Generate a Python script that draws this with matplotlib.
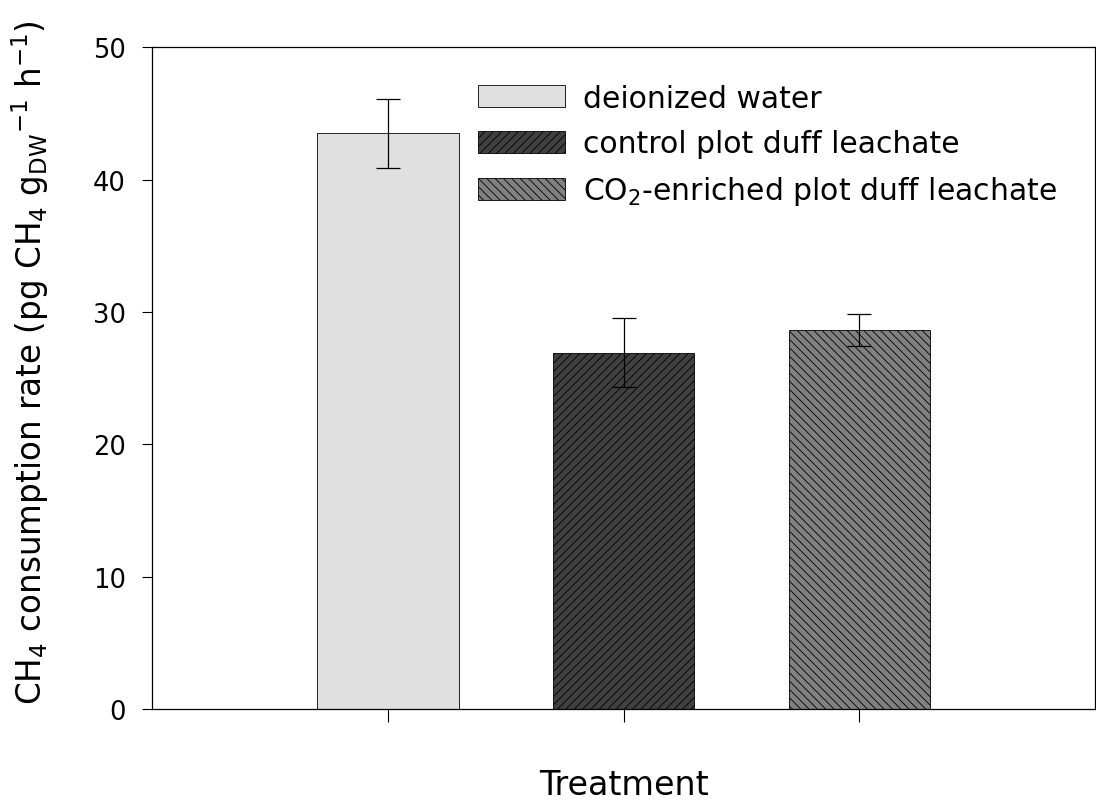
import matplotlib.pyplot as plt

# mean CH4 consumption and error per treatment
treatments = ["deionized water", "control plot duff leachate",
              "CO$_2$-enriched plot duff leachate"]
rates = [43.5, 26.9, 28.6]
errors = [2.6, 2.6, 1.2]
positions = [1, 2, 3]

fills = ["#e0e0e0", "#404040", "#808080"]
hatches = ["", "////", "\\\\\\\\"]

plt.rcParams["font.family"] = "DejaVu Sans"
plt.rcParams["hatch.linewidth"] = 0.6
plt.rcParams["hatch.color"] = "#1a1a1a"

fig = plt.figure(figsize=(10.96, 8.03), dpi=100)
ax = fig.add_axes([0.139, 0.116, 0.86, 0.824])

for x, y, err, c, h, lab in zip(positions, rates, errors, fills, hatches, treatments):
    ax.bar(x, y, width=0.6, color=c, edgecolor="black", linewidth=0.6,
           hatch=h, label=lab, zorder=2)
    ax.errorbar(x, y, yerr=err, fmt="none", ecolor="black", elinewidth=0.9,
                capsize=8.5, capthick=0.9, zorder=3)

ax.set_xlim(0, 4)
ax.set_ylim(0, 50)
ax.set_xticks(positions)
ax.set_xticklabels([])
ax.set_yticks([0, 10, 20, 30, 40, 50])
ax.tick_params(axis="x", direction="out", length=9, width=0.8)
ax.tick_params(axis="y", direction="out", length=7, width=0.8, labelsize=18.5,
               pad=12)
for s in ax.spines.values():
    s.set_linewidth(0.9)

ax.set_xlabel("Treatment", fontsize=24, labelpad=30)
ax.set_ylabel(r"CH$_4$ consumption rate (pg CH$_4$ g$_\mathregular{DW}$$^\mathregular{-1}$ h$^\mathregular{-1}$)",
              fontsize=23.5)
ax.yaxis.set_label_coords(-0.107, 0.525)

ax.legend(loc="upper left", bbox_to_anchor=(0.327, 0.972), frameon=False,
          fontsize=21.5, handlelength=2.9, handleheight=0.75,
          labelspacing=0.55, handletextpad=0.6, borderaxespad=0.2)

fig.savefig("out.png", dpi=100)
